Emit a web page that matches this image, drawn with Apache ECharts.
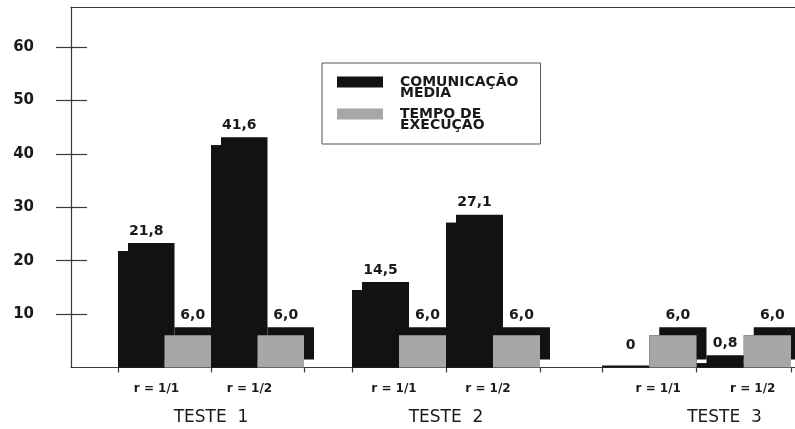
<!DOCTYPE html>
<html><head><meta charset="utf-8">
<script src="https://cdn.jsdelivr.net/npm/echarts@6/dist/echarts.min.js"></script>
<style>html,body{margin:0;padding:0;background:#fff}#c{width:795px;height:429px}</style>
</head><body><div id="c"></div>
<script>
// ---- data ----
const categories = ['r = 1/1', 'r = 1/2'];
const groups = ['TESTE  1', 'TESTE  2', 'TESTE  3'];
const comunicacaoMedia = [21.8, 41.6, 14.5, 27.1, 0, 0.8];
const tempoExecucao = [6.0, 6.0, 6.0, 6.0, 6.0, 6.0];
const yTicks = [10, 20, 30, 40, 50, 60];
const seriesNames = ['COMUNICAÇÃO\nMEDIA', 'TEMPO DE\nEXECUÇÃO'];

// ---- layout / style ----
const FONT = '"DejaVu Sans", sans-serif';
const H = 429;
const ZERO_Y = 367.4, TOP_Y = 7, Y_MAX = 67.5;
const PX = (ZERO_Y - TOP_Y) / Y_MAX;
const BLACK = '#121212', GRAY = '#a7a7a7', INK = '#1a1a1a', LINE = '#3a3a3a';
const DX = 10, DY = 8;
const LEGEND_ICON = 'path://M0,0h46v11h-46zM0,22h0.01v0.01h-0.01z';
const groupLayout = [
  { left: 118, width: 186, namePad: [0, 0, 0, 0], labelPad: [0, 16, 0, 0] },
  { left: 352, width: 188, namePad: [0, 0, 0, 0], labelPad: [0, 10, 0, 0] },
  { left: 602, width: 189, namePad: [0, 0, 0, 56], labelPad: [0, 0, 0, 18] }
];

function fmt(v) { return v === 0 ? '0' : v.toFixed(1).replace('.', ','); }

function makeRender(kind) {
  return function (params, api) {
    const v = api.value(1);
    const c = api.coord([api.value(0), 0]);
    const t = api.coord([api.value(0), v]);
    const bw = api.size([1, 0])[0];
    const half = bw / 2;
    const x0 = c[0] - bw / 2 + kind * half;
    const h = Math.max(c[1] - t[1], 2);
    const y0 = c[1] - h;
    const base = c[1];
    const children = [];
    if (v > 0) {
      // extruded silhouette: front face + depth, drawn in black
      children.push({ type: 'polygon', shape: { points: [
        [x0, base], [x0, y0], [x0 + DX, y0], [x0 + DX, y0 - DY],
        [x0 + half + DX, y0 - DY], [x0 + half + DX, base - DY], [x0 + half, base - DY], [x0 + half, base]
      ] }, style: { fill: BLACK } });
    }
    children.push({ type: 'rect', shape: { x: x0, y: y0, width: half, height: h }, style: { fill: kind ? GRAY : BLACK } });
    children.push({ type: 'text', style: {
      text: fmt(v), x: x0 + half / 2 + DX / 2, y: y0 - DY - 5,
      align: 'center', verticalAlign: 'bottom', font: 'bold 14px ' + FONT, fill: INK } });
    return { type: 'group', children };
  };
}

const frameLine = { show: true, lineStyle: { color: LINE, width: 1.2 } };
const grids = [
  { left: 71, right: -10, top: TOP_Y, bottom: H - ZERO_Y, outerBoundsMode: 'none' },
  { left: 71, right: -10, top: ZERO_Y - yTicks[yTicks.length - 1] * PX, bottom: H - (ZERO_Y - yTicks[0] * PX), outerBoundsMode: 'none' }
];
const xAxes = [
  { gridIndex: 0, type: 'value', position: 'bottom', axisLine: frameLine, axisTick: { show: false }, axisLabel: { show: false }, splitLine: { show: false } },
  { gridIndex: 0, type: 'value', position: 'top', axisLine: frameLine, axisTick: { show: false }, axisLabel: { show: false }, splitLine: { show: false } },
  { gridIndex: 1, type: 'value', show: false }
];
const yAxes = [
  { gridIndex: 0, type: 'value', min: 0, max: Y_MAX, axisLine: frameLine, axisTick: { show: false }, axisLabel: { show: false }, splitLine: { show: false } },
  { gridIndex: 1, type: 'value', min: yTicks[0], max: yTicks[yTicks.length - 1], interval: 10,
    axisLine: { show: false }, splitLine: { show: false },
    axisTick: { show: true, length: 15, lineStyle: { color: LINE, width: 1.2 } },
    axisLabel: { show: true, margin: 37, fontSize: 15, fontWeight: 'bold', color: INK, fontFamily: FONT } },
  { gridIndex: 1, type: 'value', min: yTicks[0], max: yTicks[yTicks.length - 1], interval: 10, position: 'left',
    axisLine: { show: false }, splitLine: { show: false }, axisLabel: { show: false },
    axisTick: { show: true, inside: true, length: 16, lineStyle: { color: LINE, width: 1.2 } } }
];
const series = [];
groups.forEach((g, gi) => {
  const L = groupLayout[gi];
  grids.push({ left: L.left, width: L.width, top: TOP_Y, bottom: H - ZERO_Y, outerBoundsMode: 'none' });
  const gridIndex = grids.length - 1;
  xAxes.push({ gridIndex, type: 'category', data: categories, boundaryGap: true,
    axisLine: { show: false }, splitLine: { show: false },
    axisTick: { show: true, length: 5, lineStyle: { color: LINE, width: 1.2 } },
    axisLabel: { margin: 15, fontSize: 12, fontWeight: 'bold', color: INK, fontFamily: FONT, padding: L.labelPad },
    name: g, nameLocation: 'middle', nameGap: 42,
    nameTextStyle: { fontSize: 17, color: INK, fontFamily: FONT, padding: L.namePad } });
  yAxes.push({ gridIndex, type: 'value', min: 0, max: Y_MAX, show: false });
  const xi = xAxes.length - 1, yi = yAxes.length - 1;
  [comunicacaoMedia, tempoExecucao].forEach((arr, k) => {
    series.push({
      type: 'custom', name: seriesNames[k], xAxisIndex: xi, yAxisIndex: yi,
      itemStyle: { color: k ? GRAY : BLACK },
      renderItem: makeRender(k),
      data: categories.map((c, ci) => [c, arr[gi * categories.length + ci]])
    });
  });
});

const chart = echarts.init(document.getElementById('c'));
chart.setOption({
  backgroundColor: '#ffffff',
  animation: false,
  grid: grids, xAxis: xAxes, yAxis: yAxes,
  legend: {
    left: 322, top: 63, orient: 'vertical', selectedMode: false,
    itemWidth: 46, itemHeight: 22, itemGap: 7, icon: LEGEND_ICON,
    padding: [12, 22, 12, 15], borderColor: '#555', borderWidth: 1,
    textStyle: { fontSize: 14, fontWeight: 'bold', lineHeight: 11, color: INK, fontFamily: FONT, padding: [0, 0, 0, 12] },
    data: [
      { name: seriesNames[0], itemStyle: { color: BLACK } },
      { name: seriesNames[1], itemStyle: { color: GRAY } }
    ]
  },
  series
});
</script></body></html>
